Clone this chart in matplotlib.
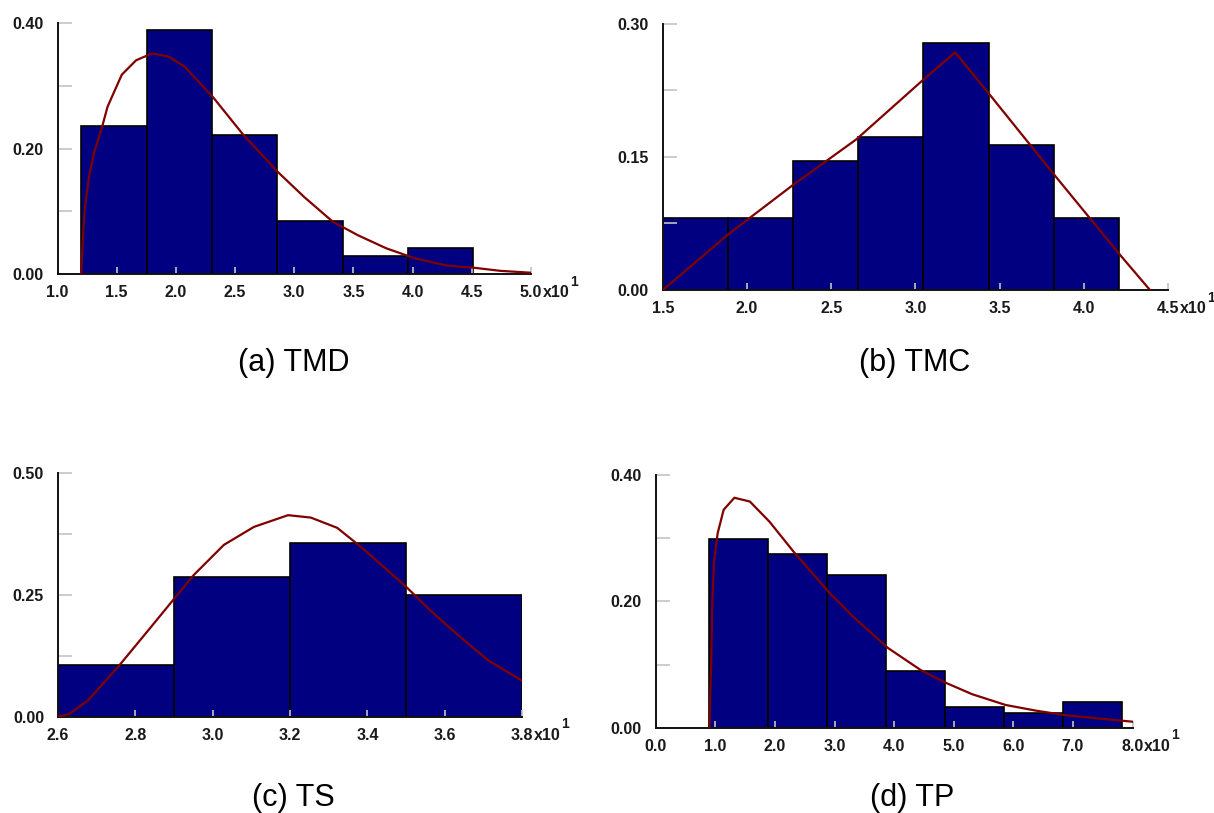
import matplotlib
matplotlib.use('Agg')
import matplotlib.pyplot as plt
from matplotlib.ticker import MultipleLocator, FormatStrFormatter

plt.rcParams['font.family'] = ['Liberation Sans', 'DejaVu Sans']

# ---- data (x values in units of x10^1, as on the axes) ----
tmd_edges   = [1.2, 1.752, 2.304, 2.856, 3.408, 3.96, 4.512]
tmd_heights = [0.236, 0.389, 0.222, 0.084, 0.029, 0.041]
tmd_curve_x = [1.20, 1.205, 1.217, 1.232, 1.266, 1.308, 1.377, 1.423, 1.543, 1.664, 1.80,
               1.936, 2.072, 2.31, 2.57, 2.86, 3.083, 3.325, 3.536, 3.777, 4.019, 4.291,
               4.517, 4.743, 5.0]
tmd_curve_y = [0.0, 0.02, 0.065, 0.107, 0.155, 0.193, 0.235, 0.267, 0.318, 0.341, 0.352,
               0.347, 0.331, 0.283, 0.222, 0.163, 0.123, 0.0835, 0.062, 0.041, 0.025, 0.0133,
               0.010, 0.005, 0.002]

tmc_edges   = [1.5, 1.887, 2.274, 2.661, 3.048, 3.435, 3.822, 4.209]
tmc_heights = [0.081, 0.081, 0.145, 0.172, 0.279, 0.163, 0.081]
tmc_curve_x = [1.5, 1.89, 2.27, 2.65, 3.04, 3.236, 3.43, 3.82, 4.20, 4.393]
tmc_curve_y = [0.0, 0.063, 0.118, 0.170, 0.236, 0.268, 0.223, 0.131, 0.043, 0.0]

ts_edges   = [2.6, 2.9, 3.2, 3.5, 3.8]
ts_heights = [0.106, 0.286, 0.357, 0.250]
ts_curve_x = [2.6, 2.629, 2.678, 2.756, 2.834, 2.898, 2.951, 3.029, 3.107, 3.195, 3.254,
              3.322, 3.380, 3.439, 3.5, 3.566, 3.634, 3.712, 3.8]
ts_curve_y = [0.0, 0.0055, 0.034, 0.103, 0.178, 0.240, 0.291, 0.353, 0.390, 0.414, 0.409,
              0.388, 0.351, 0.310, 0.267, 0.216, 0.168, 0.116, 0.074]

tp_edges   = [0.90, 1.89, 2.88, 3.87, 4.86, 5.85, 6.84, 7.83]
tp_heights = [0.299, 0.275, 0.242, 0.090, 0.033, 0.024, 0.040]
tp_curve_x = [0.90, 0.93, 0.95, 0.98, 1.04, 1.14, 1.32, 1.58, 1.91, 2.31, 2.90, 3.31, 3.90,
              4.45, 4.87, 5.31, 5.87, 6.38, 6.86, 7.38, 8.0]
tp_curve_y = [0.0, 0.10, 0.20, 0.265, 0.308, 0.345, 0.364, 0.358, 0.326, 0.279, 0.215, 0.176,
              0.126, 0.091, 0.071, 0.053, 0.036, 0.027, 0.020, 0.015, 0.0095]

captions = ['(a) TMD', '(b) TMC', '(c) TS', '(d) TP']

BAR_COLOR   = '#000080'
CURVE_COLOR = '#800000'
TICK_COLOR  = '#c4c4c4'
TEXT_COLOR  = '#1a1a1a'
TICK_SIZE   = 11.5


def draw_panel(ax, edges, heights, cx, cy, xlim, xstep, ylim, ystep):
    widths = [edges[i + 1] - edges[i] for i in range(len(heights))]
    ax.bar(edges[:-1], heights, width=widths, align='edge',
           color=BAR_COLOR, edgecolor='black', linewidth=1.2)
    ax.plot(cx, cy, color=CURVE_COLOR, lw=1.6, zorder=3)

    ax.set_xlim(*xlim)
    ax.set_ylim(*ylim)
    for s in ('top', 'right'):
        ax.spines[s].set_visible(False)
    for s in ('left', 'bottom'):
        ax.spines[s].set_linewidth(1.4)
        ax.spines[s].set_color('#111111')

    ax.xaxis.set_major_locator(MultipleLocator(xstep))
    ax.xaxis.set_major_formatter(FormatStrFormatter('%.1f'))
    ax.yaxis.set_major_locator(MultipleLocator(ystep))
    ax.yaxis.set_minor_locator(MultipleLocator(ystep / 2))
    ax.yaxis.set_major_formatter(FormatStrFormatter('%.2f'))

    ax.tick_params(axis='x', which='major', direction='in', length=5, width=1.2,
                   color=TICK_COLOR, pad=8, labelsize=TICK_SIZE, labelcolor=TEXT_COLOR)
    ax.tick_params(axis='y', which='both', direction='in', length=10, width=1.2,
                   color=TICK_COLOR, pad=10, labelsize=TICK_SIZE, labelcolor=TEXT_COLOR)
    for lab in ax.get_xticklabels() + ax.get_yticklabels():
        lab.set_fontweight('bold')

    # exponent after the last x tick label
    ax.annotate('x10', xy=(1, 0), xycoords='axes fraction', xytext=(8.5, -8),
                textcoords='offset points', ha='left', va='top',
                fontsize=TICK_SIZE, fontweight='bold', color=TEXT_COLOR)
    ax.annotate('1', xy=(1, 0), xycoords='axes fraction', xytext=(28, -0.5),
                textcoords='offset points', ha='left', va='top',
                fontsize=10, fontweight='bold', color=TEXT_COLOR)


fig = plt.figure(figsize=(12.14, 8.13), dpi=100)

ax_a = fig.add_axes([0.04737, 0.66298, 0.39003, 0.30837])
ax_b = fig.add_axes([0.54596, 0.64330, 0.41614, 0.32718])
ax_c = fig.add_axes([0.04778, 0.11845, 0.38221, 0.29938])
ax_d = fig.add_axes([0.54012, 0.10492, 0.39275, 0.31082])

draw_panel(ax_a, tmd_edges, tmd_heights, tmd_curve_x, tmd_curve_y, (1.0, 5.0), 0.5, (0, 0.40), 0.20)
draw_panel(ax_b, tmc_edges, tmc_heights, tmc_curve_x, tmc_curve_y, (1.5, 4.5), 0.5, (0, 0.30), 0.15)
draw_panel(ax_c, ts_edges, ts_heights, ts_curve_x, ts_curve_y, (2.6, 3.8), 0.2, (0, 0.50), 0.25)
draw_panel(ax_d, tp_edges, tp_heights, tp_curve_x, tp_curve_y, (0.0, 8.0), 1.0, (0, 0.40), 0.20)

# captions under each panel
cap_pos = [(294, 363), (915, 363), (293, 798), (912, 798)]
for (px, py), txt in zip(cap_pos, captions):
    fig.text(px / 1214, 1 - py / 813, txt, ha='center', va='center', fontsize=22, color='black')

fig.savefig('out.png', dpi=100)
plt.close(fig)
